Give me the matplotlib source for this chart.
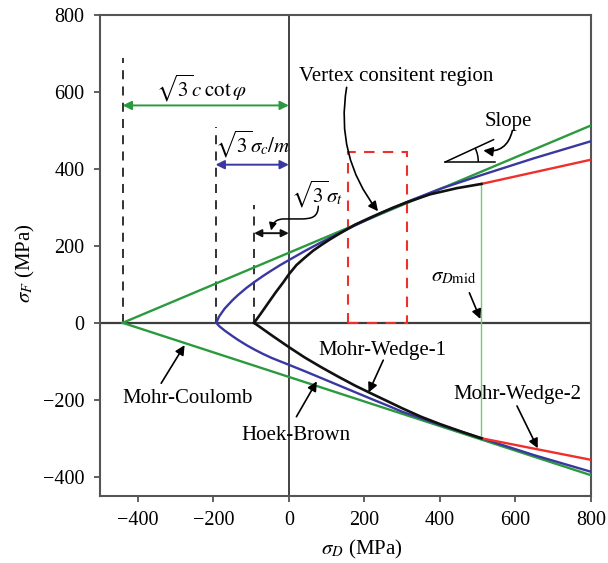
import matplotlib
matplotlib.use("Agg")
import matplotlib.pyplot as plt
from matplotlib.patches import Rectangle, FancyArrowPatch, Arc
from matplotlib.path import Path

plt.rcParams["font.family"] = ["Liberation Serif", "DejaVu Serif"]
plt.rcParams["mathtext.fontset"] = "stix"

# ---- failure envelopes in the (sigma_D, sigma_F) plane (MPa) ----
mc_x = [-440, 800]
mc_top = [0, 513]
mc_bot = [0, -396]

hb_top_x = [-192, -185, -170, -150, -135, -112, -90, -68, -46, -23, 0, 43, 87,
            131, 175, 242, 312, 400, 510, 650, 800]
hb_top_y = [0, 16, 37, 58, 72, 91, 107, 122, 136, 150, 163, 187, 210,
            232, 253, 284, 314, 348, 384, 428, 472]

hb_bot_x = [-192, -185, -170, -150, -135, -112, -90, -68, -46, -23, 0, 43, 87,
            131, 175, 219, 264, 300, 350, 400, 510, 650, 800]
hb_bot_y = [0, -8, -20, -34, -44, -58, -70, -81, -91, -100, -109, -126, -144,
            -162, -180, -198, -216, -231, -248, -265, -300, -344, -387]

mw1_top_x = [-92, -75, -55, -35, -15, 0, 20, 43, 65, 87, 109, 131, 175, 210,
             242, 275, 312, 374, 445, 510]
mw1_top_y = [0, 23, 51, 79, 105, 126, 150, 170, 188, 203, 217, 230, 255, 271,
             285, 299, 313, 334, 350, 361]

mw1_bot_x = [-92, -46, 0, 42, 87, 131, 175, 219, 264, 300, 350, 400, 455, 510]
mw1_bot_y = [0, -32, -63, -90, -116, -140, -163, -184, -205, -222, -244, -263,
             -282, -300]

mw2_x = [510, 800]
mw2_top = [361, 424]
mw2_bot = [-300, -356]

sigma_d_mid = 510
apex_mc, apex_hb, apex_mw = -440, -194, -92
vertex_region = (157, 314, 445)      # x0, x1, height

GREEN = "#2b9a3e"
BLUE = "#3a38a0"
RED = "#ef2f2c"
BLACK = "#111111"
LIGHTGREEN = "#6ccf6c"

fig = plt.figure(figsize=(6.08, 5.63), dpi=100)
ax = fig.add_axes([100 / 608, 1 - 496 / 563, 491 / 608, 481 / 563])
ax.set_xlim(-500, 800)
ax.set_ylim(-450, 800)

# reference axes through the origin
ax.axhline(0, color="#3d3d3d", lw=1.6, zorder=1)
ax.axvline(0, color="#222222", lw=1.2, zorder=1)

# envelopes
lw = 1.7
ax.plot(mc_x, mc_top, color=GREEN, lw=lw, zorder=3)
ax.plot(mc_x, mc_bot, color=GREEN, lw=lw, zorder=3)
ax.plot(hb_top_x, hb_top_y, color=BLUE, lw=lw, zorder=4)
ax.plot(hb_bot_x, hb_bot_y, color=BLUE, lw=lw, zorder=4)
ax.plot(mw2_x, mw2_top, color=RED, lw=lw, zorder=5)
ax.plot(mw2_x, mw2_bot, color=RED, lw=lw, zorder=5)
ax.plot(mw1_top_x, mw1_top_y, color=BLACK, lw=lw + 0.2, zorder=6)
ax.plot(mw1_bot_x, mw1_bot_y, color=BLACK, lw=lw + 0.2, zorder=6)

# sigma_Dmid marker
ax.plot([sigma_d_mid, sigma_d_mid], [mw2_bot[0], mw2_top[0]], color=LIGHTGREEN,
        lw=1.0, zorder=2)

# vertex-consistent region
x0, x1, h = vertex_region
ax.add_patch(Rectangle((x0, 0), x1 - x0, h, fill=False, edgecolor=RED,
                       lw=1.5, ls=(0, (5, 4)), zorder=2))

# dashed guides at the tension apexes
dash = (0, (5, 4))
ax.plot([apex_mc, apex_mc], [0, 687], color="#222222", lw=1.3, ls=dash, zorder=2)
ax.plot([apex_hb, apex_hb], [0, 509], color="#222222", lw=1.3, ls=dash, zorder=2)
ax.plot([apex_mw, apex_mw], [0, 306], color="#222222", lw=1.3, ls=dash, zorder=2)

# dimension arrows
def dim_arrow(xa, xb, y, color, scale):
    ax.annotate("", xy=(xb, y), xytext=(xa, y),
                arrowprops=dict(arrowstyle="<|-|>", color=color, lw=1.4,
                                mutation_scale=scale, shrinkA=0, shrinkB=0))

dim_arrow(apex_mc, 0, 565, GREEN, 13)
dim_arrow(apex_hb, 0, 411, BLUE, 13)
dim_arrow(apex_mw, 0, 233, BLACK, 11)

fs = 15
ax.text(-232, 609, r"$\sqrt{3}c\;\cot\varphi$", fontsize=fs, ha="center", va="center")
ax.text(-95, 463, r"$\sqrt{3}\sigma_c/m$", fontsize=fs, ha="center", va="center")
ax.text(74, 334, r"$\sqrt{3}\sigma_t$", fontsize=fs, ha="center", va="center")

# curved pointer to the tensile-strength arrow
p = Path([(78, 303), (77, 275), (62, 270), (30, 270),
          (-12, 270),
          (-32, 270), (-42, 262), (-47, 240)],
         [Path.MOVETO, Path.CURVE4, Path.CURVE4, Path.CURVE4,
          Path.LINETO,
          Path.CURVE4, Path.CURVE4, Path.CURVE4])
ax.add_patch(FancyArrowPatch(path=p, arrowstyle="-|>", mutation_scale=11,
                             color="k", lw=1.1, zorder=7))

arrow_kw = dict(arrowstyle="-|>", color="k", lw=1.2, mutation_scale=14,
                shrinkA=0, shrinkB=0)

ax.text(285, 639, "Vertex consitent region", fontsize=fs, ha="center", va="center")
ax.annotate("", xy=(236, 290), xytext=(153, 612),
            arrowprops=dict(**arrow_kw, connectionstyle="arc3,rad=0.22"))

# slope symbol
ax.plot([414, 547], [418, 418], color="k", lw=1.1)
ax.plot([414, 542], [418, 476], color="k", lw=1.1)
ax.add_patch(Arc((414, 418), 2 * 33 / 0.3767, 2 * 33 / 0.385, theta1=0,
                 theta2=25, color="k", lw=1.1))
ax.text(580, 522, "Slope", fontsize=fs, ha="center", va="center")
ax.annotate("", xy=(515, 448), xytext=(592, 500),
            arrowprops=dict(**arrow_kw, connectionstyle="arc3,rad=-0.45"))

ax.text(436, 120, r"$\sigma_{D\mathrm{mid}}$", fontsize=fs, ha="center", va="center")
ax.annotate("", xy=(507, 10), xytext=(478, 78), arrowprops=arrow_kw)

ax.text(-268, -196, "Mohr-Coulomb", fontsize=fs, ha="center", va="center")
ax.annotate("", xy=(-276, -58), xytext=(-338, -157), arrowprops=arrow_kw)

ax.text(20, -292, "Hoek-Brown", fontsize=fs, ha="center", va="center")
ax.annotate("", xy=(74, -152), xytext=(20, -244), arrowprops=arrow_kw)

ax.text(248, -72, "Mohr-Wedge-1", fontsize=fs, ha="center", va="center")
ax.annotate("", xy=(211, -181), xytext=(250, -97), arrowprops=arrow_kw)

ax.text(605, -186, "Mohr-Wedge-2", fontsize=fs, ha="center", va="center")
ax.annotate("", xy=(659, -326), xytext=(604, -216), arrowprops=arrow_kw)

# axes styling
xticks = [-400, -200, 0, 200, 400, 600, 800]
yticks = [-400, -200, 0, 200, 400, 600, 800]
ax.set_xticks(xticks)
ax.set_yticks(yticks)
ax.set_xticklabels([str(v).replace("-", "\u2212") for v in xticks])
ax.set_yticklabels([str(v).replace("-", "\u2212") for v in yticks])
ax.tick_params(direction="out", length=4, width=1.2, color="#444444",
               labelsize=14.5, pad=7)
for s in ax.spines.values():
    s.set_color("#555555")
    s.set_linewidth(1.5)

fig.text(362 / 608, 1 - 549 / 563, r"$\sigma_D$ (MPa)", fontsize=fs,
         ha="center", va="center")
fig.text(25 / 608, 1 - 263 / 563, r"$\sigma_F$ (MPa)", fontsize=fs,
         ha="center", va="center", rotation=90)

fig.savefig("out.png", dpi=100)
